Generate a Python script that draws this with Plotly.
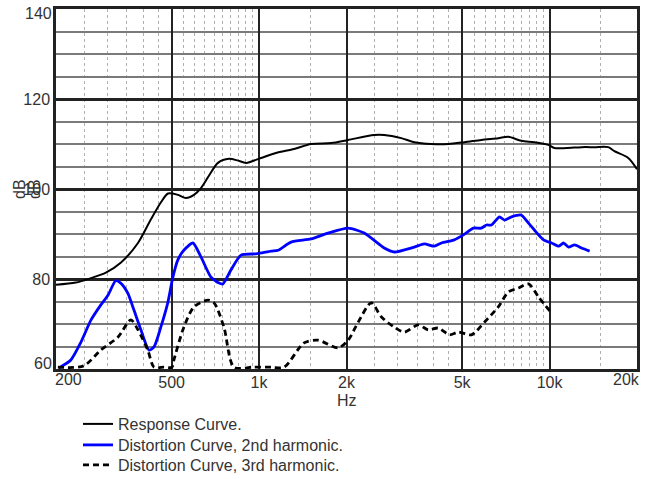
import math
import plotly.graph_objects as go

# ---- data ----
resp_f = [200, 234, 264, 297, 334, 383, 424, 459, 486, 526, 560, 597, 631, 673, 722, 788, 847, 902,
          1016, 1144, 1320, 1511, 1771, 2026, 2489, 2697, 3087, 3423, 3914, 4481, 5093, 5822, 6661,
          7214, 7996, 8867, 9911, 10388, 11427, 12888, 14290, 15930, 16720, 18660, 20000]
resp_db = [78.7, 79.2, 80.2, 81.4, 83.6, 88.0, 93.2, 97.0, 99.0, 98.7, 98.0, 98.7, 100.2, 103.0, 105.8,
           106.7, 106.3, 105.8, 106.9, 108.0, 108.9, 110.0, 110.2, 110.9, 112.0, 112.0, 111.3, 110.4,
           110.0, 110.0, 110.4, 110.9, 111.3, 111.6, 110.7, 110.4, 109.8, 109.1, 109.1, 109.3, 109.3,
           109.3, 108.4, 106.9, 104.4]

h2_f = [204, 225, 243, 264, 285, 302, 321, 334, 353, 371, 392, 418, 435, 459, 485, 505, 525, 551, 592,
        631, 683, 728, 751, 800, 867, 977, 1100, 1163, 1289, 1511, 1729, 2026, 2302, 2697, 2921, 3423,
        3704, 4010, 4244, 4699, 5050, 5463, 5822, 6066, 6309, 6724, 6995, 7392, 7996, 8464, 8867, 9532,
        10160, 10740, 11170, 11630, 12190, 12890, 13740]
h2_db = [60.2, 62.0, 65.8, 70.9, 74.2, 76.4, 79.6, 79.1, 76.9, 73.1, 68.7, 64.2, 64.9, 69.3, 74.7, 80.4,
         84.2, 86.4, 88.0, 84.9, 80.4, 79.1, 78.9, 82.0, 85.3, 85.6, 86.2, 86.4, 88.2, 88.9, 90.2, 91.3,
         90.2, 86.9, 86.0, 87.1, 87.8, 87.3, 88.0, 88.7, 89.8, 91.3, 91.3, 92.0, 92.0, 93.8, 93.1, 93.8,
         94.2, 92.4, 90.9, 88.7, 88.0, 87.3, 88.0, 87.1, 87.6, 86.9, 86.2]

h3_f = [203, 249, 285, 327, 362, 383, 414, 435, 470, 501, 509, 551, 597, 667, 700, 757, 820, 950, 1100,
        1219, 1429, 1597, 1872, 2026, 2194, 2433, 2634, 2921, 3162, 3533, 3826, 4142, 4520, 4856, 5383,
        5967, 6661, 7214, 7816, 8464, 9164, 10160]
h3_db = [60.4, 60.7, 64.2, 67.1, 70.9, 68.7, 64.2, 60.4, 60.4, 60.4, 62.0, 69.3, 73.8, 75.3, 74.7, 69.3,
         60.4, 60.4, 60.4, 60.4, 65.8, 66.4, 64.7, 66.4, 70.4, 74.7, 71.6, 69.3, 68.2, 69.8, 68.7, 69.1,
         67.6, 68.2, 67.6, 70.4, 73.8, 77.1, 78.0, 78.9, 76.0, 72.4]

x_tick_vals = [500, 1000, 2000, 5000, 10000]
x_tick_text = ["500", "1k", "2k", "5k", "10k"]
x_end_vals = [200, 20000]
x_end_text = ["200", "20k"]
y_tick_vals = [80, 100, 120]
y_end_vals = [60, 140]

series_names = ["Response Curve.", "Distortion Curve, 2nd harmonic.", "Distortion Curve, 3rd harmonic."]

# minor (dotted) vertical grid positions
x_minor = ([v for v in range(250, 1000, 50) if v != 500] +
           [1500, 2500, 3000, 3500, 4000, 4500] +
           [v for v in range(5500, 10000, 500)] + [15000])

FONT = "Arial, Liberation Sans, sans-serif"
TXT = "#333333"

fig = go.Figure()
fig.add_trace(go.Scatter(x=resp_f, y=resp_db, mode="lines", name=series_names[0], legend="legend",
                         line=dict(color="#000000", width=2, shape="spline", smoothing=0.8)))
fig.add_trace(go.Scatter(x=h2_f, y=h2_db, mode="lines", name=series_names[1], legend="legend2",
                         line=dict(color="#0000ff", width=2.8, shape="spline", smoothing=0.6)))
fig.add_trace(go.Scatter(x=h3_f, y=h3_db, mode="lines", name=series_names[2], legend="legend3",
                         line=dict(color="#000000", width=2.8, dash="6px,4px", shape="spline", smoothing=0.8)))

LEG_X = (78 - 56) / 581


def leg(top_px):
    return dict(x=LEG_X, xanchor="left", y=(369 - top_px) / 360, yanchor="top",
                bgcolor="rgba(0,0,0,0)", borderwidth=0,
                font=dict(family=FONT, size=16, color=TXT))


fig.update_layout(
    width=654, height=479,
    margin=dict(l=56, r=17, t=9, b=110, autoexpand=False),
    paper_bgcolor="white", plot_bgcolor="white",
    font=dict(family=FONT, size=16, color=TXT),
    showlegend=True,
    legend=leg(407), legend2=leg(428), legend3=leg(448),
    xaxis=dict(type="log", range=[math.log10(200), math.log10(20000)], automargin=False,
               tickmode="array", tickvals=x_tick_vals, ticktext=x_tick_text,
               ticks="", ticklabelstandoff=-3, showgrid=True, gridcolor="#222222", gridwidth=2,
               showline=True, linecolor="#222222", linewidth=2.5, mirror=True,
               tickfont=dict(family=FONT, size=16, color=TXT),
               minor=dict(tickmode="array", tickvals=x_minor, showgrid=True,
                          gridcolor="#b0b0b0", gridwidth=1, griddash="dot", ticks=""),
               zeroline=False),
    yaxis=dict(range=[60, 140], tickmode="array", tickvals=y_tick_vals, automargin=False,
               ticks="", showgrid=True, gridcolor="#222222", gridwidth=2.5,
               showline=True, linecolor="#222222", linewidth=2.5, mirror=True,
               tickfont=dict(family=FONT, size=16, color=TXT),
               minor=dict(dtick=5, tick0=60, showgrid=True, gridcolor="#7a7a7a", gridwidth=1.5, ticks=""),
               zeroline=False),
)

annotations = []
# end labels on the x axis (shifted inward as in the reference)
annotations.append(dict(x=math.log10(x_end_vals[0]), xref="x", y=0, yref="paper", text=x_end_text[0],
                        showarrow=False, xanchor="left", yanchor="top", yshift=0, xshift=-3,
                        font=dict(family=FONT, size=16, color=TXT)))
annotations.append(dict(x=math.log10(x_end_vals[1]), xref="x", y=0, yref="paper", text=x_end_text[1],
                        showarrow=False, xanchor="right", yanchor="top", yshift=0, xshift=5,
                        font=dict(family=FONT, size=16, color=TXT)))
# end labels on the y axis
annotations.append(dict(x=0, xref="paper", y=y_end_vals[0], yref="y", text=str(y_end_vals[0]),
                        showarrow=False, xanchor="right", yanchor="bottom", xshift=-2, yshift=-5,
                        font=dict(family=FONT, size=16, color=TXT)))
annotations.append(dict(x=0, xref="paper", y=y_end_vals[1], yref="y", text=str(y_end_vals[1]),
                        showarrow=False, xanchor="right", yanchor="top", xshift=-2, yshift=6,
                        font=dict(family=FONT, size=16, color=TXT)))
# x axis title
annotations.append(dict(x=0.5, xref="paper", y=0, yref="paper", text="Hz", showarrow=False,
                        xanchor="center", yanchor="top", yshift=-22, borderpad=0,
                        font=dict(family=FONT, size=16, color=TXT)))
# doubled "dB" axis title
for xs in (-37, -22):
    annotations.append(dict(x=0, xref="paper", y=100, yref="y", text="dB", textangle=-90,
                            showarrow=False, xanchor="center", yanchor="middle", xshift=xs,
                            font=dict(family=FONT, size=16, color=TXT)))
fig.update_layout(annotations=annotations)

fig.write_html("out.html", config={"displayModeBar": False},
               post_script="document.body.style.margin='0';")
